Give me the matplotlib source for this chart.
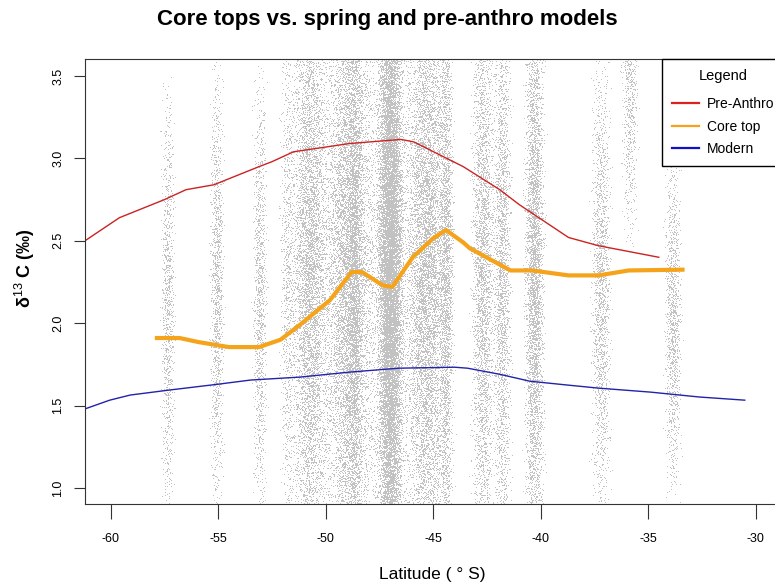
import matplotlib
matplotlib.use("Agg")
import matplotlib.pyplot as plt
from matplotlib.lines import Line2D
import numpy as np

plt.rcParams['font.family'] = ['Liberation Sans', 'DejaVu Sans']
plt.rcParams['mathtext.fontset'] = 'custom'
plt.rcParams['mathtext.rm'] = 'Liberation Sans'
plt.rcParams['mathtext.bf'] = 'Liberation Sans:bold'

# model curves
pre_lat = [-61.2, -59.6, -57.5, -56.5, -55.2, -53.1, -52.5, -51.5, -48.9, -46.5, -45.9,
           -43.6, -41.9, -41.0, -38.7, -37.3, -34.5]
pre_d13c = [2.50, 2.64, 2.75, 2.81, 2.84, 2.95, 2.98, 3.04, 3.09, 3.115, 3.10,
            2.95, 2.81, 2.72, 2.52, 2.47, 2.40]

core_lat = [-57.95, -56.8, -55.9, -54.5, -53.1, -52.1, -51.2, -49.8, -48.8, -48.3, -47.35,
            -46.9, -45.95, -45.0, -44.4, -43.6, -43.3, -41.4, -40.4, -38.7, -37.3, -35.9, -33.3]
core_d13c = [1.91, 1.91, 1.885, 1.855, 1.855, 1.90, 1.99, 2.14, 2.31, 2.31, 2.23,
             2.22, 2.40, 2.515, 2.565, 2.49, 2.455, 2.32, 2.32, 2.29, 2.29, 2.32, 2.325]

mod_lat = [-61.2, -60.05, -59.1, -57.3, -55.0, -53.5, -51.2, -48.9, -46.6, -44.0, -43.4,
           -41.9, -40.5, -38.7, -37.3, -34.9, -32.6, -30.5]
mod_d13c = [1.48, 1.533, 1.564, 1.594, 1.63, 1.655, 1.673, 1.703, 1.727, 1.733, 1.727,
            1.69, 1.648, 1.624, 1.606, 1.582, 1.552, 1.533]

# gray sample cloud: one stripe per station group (centre, spread, vertical middle/extent, count)
band_lat = [-57.35, -55.07, -53.07, -51.8, -47.9, -50.75, -49.0, -48.65, -47.0, -45.3, -44.4,
            -42.7, -41.8, -40.3, -37.2, -35.85, -33.85]
band_halfw = [0.42, 0.42, 0.42, 0.45, 4.3, 1.15, 1.3, 0.45, 0.75, 1.3, 0.45,
              0.7, 0.55, 0.6, 0.6, 0.5, 0.5]
band_mid = [2.1, 2.2, 2.15, 2.3, 2.3, 2.3, 2.3, 2.3, 2.3, 2.3, 2.3,
            2.3, 2.3, 2.3, 2.2, 3.5, 2.0]
band_halfh = [1.45, 1.5, 1.5, 2.0, 2.4, 2.3, 2.3, 2.2, 2.4, 2.3, 2.2,
              2.2, 2.2, 2.2, 1.55, 1.1, 1.15]
band_n = [1000, 1200, 1100, 900, 7000, 6500, 6500, 2500, 16000, 8000, 2500,
          3500, 2600, 4500, 1700, 800, 1100]


def halton(n, base, start):
    i = np.arange(start, start + n)
    f = 1.0
    r = np.zeros(n)
    while i.any():
        f /= base
        r += f * (i % base)
        i //= base
    return r


fig = plt.figure(figsize=(7.75, 5.86), dpi=100)
ax = fig.add_axes([85 / 775, 1 - 504 / 586, (777 - 85) / 775, 445 / 586])

start = 1
for lat, hw, mid, hh, n in zip(band_lat, band_halfw, band_mid, band_halfh, band_n):
    xs = lat + hw * (halton(n, 2, start) + halton(n, 5, start) + halton(n, 7, start) - 1.5) / 1.5
    ys = mid + hh * (halton(n, 3, start) + halton(n, 11, start) - 1)
    ax.plot(xs, ys, ',', color='#C2C2C2', rasterized=True)
    start += n

ax.plot(pre_lat, pre_d13c, color='#CC2222', lw=1.0)
ax.plot(core_lat, core_d13c, color='#F4A31A', lw=3.0, solid_capstyle='butt')
ax.plot(mod_lat, mod_d13c, color='#2222AA', lw=1.0)

ax.set_xlim(-61.2, -29.0)
ax.set_ylim(0.903, 3.603)
ax.set_xticks([-60, -55, -50, -45, -40, -35, -30])
ax.set_xticklabels(['-60', '-55', '-50', '-45', '-40', '-35', '-30'])
ax.set_yticks([1.0, 1.5, 2.0, 2.5, 3.0, 3.5])
ax.set_yticklabels(['1.0', '1.5', '2.0', '2.5', '3.0', '3.5'], rotation=90, va='center')
ax.tick_params(axis='x', length=11, pad=10, labelsize=9, color='#333333')
ax.tick_params(axis='y', length=8, pad=7, labelsize=9, color='#333333')
for s in ax.spines.values():
    s.set_color('#333333')

fig.text(0.5, 1 - 20 / 586, 'Core tops vs. spring and pre-anthro models',
         ha='center', va='center', fontsize=16, fontweight='bold')
fig.text(432 / 775, 1 - 575 / 586, 'Latitude ( ° S)', ha='center', va='center', fontsize=12.5)
fig.text(25 / 775, 1 - 268 / 586, 'δ$^{13}$ C (‰)', ha='center', va='center',
         rotation=90, fontsize=13, fontweight='bold')

handles = [Line2D([], [], color='#DD2020', lw=1.6),
           Line2D([], [], color='#F4A31A', lw=1.6),
           Line2D([], [], color='#1010CC', lw=1.6)]
leg = ax.legend(handles, ['Pre-Anthro', 'Core top', 'Modern'], title='Legend',
                loc='upper left', bbox_to_anchor=(662 / 775, 1 - 59 / 586),
                bbox_transform=fig.transFigure, borderaxespad=0, fancybox=False,
                framealpha=1, edgecolor='black', fontsize=10, title_fontsize=10.5,
                handlelength=1.9, handletextpad=0.6, labelspacing=0.6, borderpad=0.75)
leg._legend_box.sep = 10
leg.get_frame().set_linewidth(1.0)

fig.savefig('out.png', dpi=100)
